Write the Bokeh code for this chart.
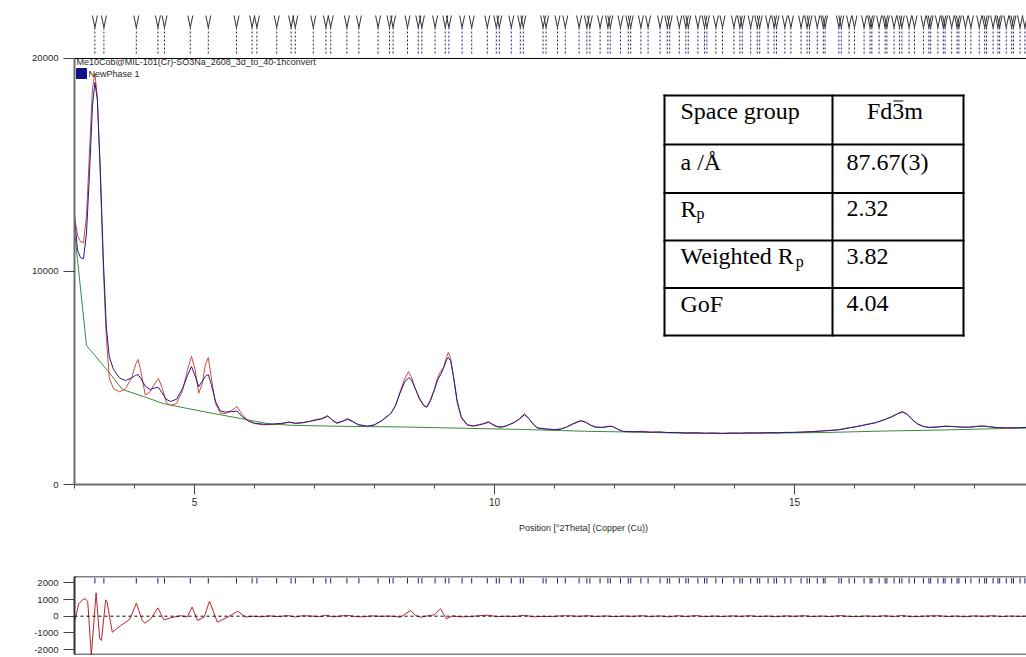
import numpy as np
from bokeh.plotting import figure
from bokeh.layouts import column
from bokeh.models import Range1d, FixedTicker, Span, Label, PrintfTickFormatter
from bokeh.embed import file_html
from bokeh.resources import INLINE

# ---------------- data ----------------
two_theta = [3.00, 3.05, 3.10, 3.15, 3.20, 3.25, 3.30, 3.34, 3.38, 3.43, 3.48, 3.53, 3.58, 3.65,
             3.75, 3.85, 3.95, 4.02, 4.06, 4.10, 4.18, 4.26, 4.34, 4.40, 4.46, 4.53, 4.60, 4.70,
             4.80, 4.88, 4.95, 5.01, 5.07, 5.13, 5.18, 5.23, 5.28, 5.35, 5.43, 5.52, 5.62, 5.71,
             5.79, 5.90, 6.00, 6.15, 6.30, 6.45, 6.58, 6.68, 6.80, 6.92, 7.02, 7.12, 7.22, 7.30,
             7.37, 7.46, 7.55, 7.63, 7.73, 7.88, 8.00, 8.12, 8.27, 8.35, 8.42, 8.50, 8.57, 8.62,
             8.68, 8.75, 8.82, 8.87, 8.93, 9.00, 9.05, 9.10, 9.15, 9.20, 9.23, 9.27, 9.32, 9.38,
             9.45, 9.55, 9.65, 9.75, 9.82, 9.90, 9.97, 10.05, 10.12, 10.22, 10.32, 10.42, 10.50,
             10.57, 10.65, 10.72, 10.85, 11.00, 11.10, 11.20, 11.30, 11.40, 11.45, 11.52, 11.60,
             11.68, 11.80, 11.92, 11.97, 12.05, 12.13, 12.30, 12.45, 12.60, 12.75, 12.90, 13.05,
             13.20, 13.35, 13.50, 13.65, 13.80, 13.95, 14.10, 14.25, 14.40, 14.55, 14.70, 14.85,
             15.00, 15.15, 15.30, 15.45, 15.60, 15.75, 15.90, 16.05, 16.20, 16.35, 16.50, 16.62,
             16.72, 16.80, 16.88, 16.96, 17.05, 17.15, 17.25, 17.40, 17.52, 17.62, 17.75, 17.90,
             18.05, 18.15, 18.28, 18.40, 18.55, 18.70, 18.87]

observed = [12600, 11700, 11400, 11350, 12600, 15600, 18600, 19300, 18200, 14500, 10200, 6900, 5000, 4500,
            4350, 4500, 5000, 5650, 5870, 5400, 4200, 4350, 4750, 4980, 4550, 3850, 3710, 3800,
            4400, 5350, 6010, 5400, 4280, 4750, 5600, 5960, 5000, 3800, 3350, 3330, 3480, 3660,
            3300, 2980, 2860, 2800, 2820, 2860, 2940, 2860, 2900, 2970, 3050, 3100, 3240, 3000,
            2860, 2960, 3100, 2980, 2800, 2720, 2800, 3000, 3330, 3700, 4300, 4950, 5300, 5000,
            4500, 4000, 3700, 3620, 3900, 4500, 5000, 5300, 5500, 5950, 6200, 5900, 5000, 3800,
            3100, 2780, 2740, 2820, 2860, 2960, 2800, 2700, 2680, 2780, 2900, 3100, 3330,
            3100, 2800, 2640, 2600, 2570, 2600, 2700, 2850, 2970, 3000, 2930, 2780,
            2690, 2680, 2740, 2720, 2600, 2490, 2470, 2500, 2450, 2470, 2430, 2450,
            2410, 2440, 2400, 2420, 2390, 2420, 2400, 2430, 2410, 2440, 2420, 2450,
            2440, 2470, 2490, 2510, 2540, 2580, 2660, 2720, 2820, 2900, 3050, 3180,
            3330, 3430, 3300, 3050, 2840, 2720, 2680, 2710, 2750, 2730, 2700, 2690,
            2740, 2750, 2700, 2660, 2650, 2660, 2680]

calculated = [12600, 11000, 10650, 10600, 11800, 14600, 17800, 18870, 18100, 14800, 10600, 7400, 6000, 5400,
              5000, 4880, 5000, 5130, 5160, 5000, 4620, 4460, 4540, 4550, 4300, 4000, 3900, 4000,
              4500, 5100, 5540, 5100, 4600, 4850, 5080, 5160, 4700, 3900, 3450, 3400, 3420, 3450,
              3200, 2980, 2880, 2830, 2830, 2870, 2920, 2880, 2900, 2960, 3020, 3080, 3200, 3030,
              2900, 2960, 3060, 2960, 2810, 2740, 2800, 2990, 3330, 3700, 4250, 4800, 5020, 4900,
              4500, 4050, 3720, 3640, 3950, 4450, 4900, 5150, 5450, 5850, 5960, 5800, 5000, 3900,
              3150, 2800, 2750, 2800, 2850, 2920, 2820, 2720, 2700, 2780, 2900, 3080, 3280,
              3100, 2820, 2660, 2610, 2580, 2600, 2690, 2830, 2950, 2980, 2920, 2790,
              2700, 2680, 2730, 2720, 2610, 2500, 2480, 2480, 2460, 2460, 2440, 2430,
              2420, 2420, 2410, 2410, 2400, 2410, 2410, 2420, 2420, 2430, 2430, 2440,
              2450, 2460, 2480, 2510, 2540, 2570, 2650, 2730, 2810, 2900, 3040, 3180,
              3320, 3400, 3290, 3060, 2850, 2720, 2680, 2700, 2730, 2720, 2700, 2690,
              2720, 2740, 2700, 2670, 2660, 2660, 2680]

bg_two_theta = [3.00, 3.20, 3.55, 3.80, 4.15, 4.48, 4.88, 5.32, 5.77, 6.22, 6.60, 7.50,
                8.50, 9.50, 10.50, 11.50, 12.50, 13.50, 14.50, 15.50, 16.50, 17.50, 18.50, 18.87]
background = [11900, 6530, 5350, 4460, 4130, 3800, 3570, 3330, 3100, 2860, 2780, 2730,
              2700, 2640, 2580, 2500, 2450, 2400, 2410, 2440, 2510, 2560, 2630, 2650]

diff_two_theta = [3.00, 3.07, 3.14, 3.18, 3.22, 3.28, 3.36, 3.42, 3.45, 3.52, 3.54, 3.63, 3.77,
                  3.91, 3.96, 4.03, 4.13, 4.17, 4.27, 4.39, 4.49, 4.60, 4.77, 4.88, 4.96, 5.05,
                  5.16, 5.25, 5.38, 5.55, 5.72, 5.85, 5.98, 6.10, 6.25, 6.40, 6.55, 6.68, 6.80,
                  6.95, 7.08, 7.20, 7.30, 7.42, 7.55, 7.68, 7.80, 7.95, 8.10, 8.25, 8.35, 8.43,
                  8.52, 8.60, 8.68, 8.77, 8.90, 9.00, 9.10, 9.20, 9.30, 9.45, 9.60, 9.75, 9.90,
                  10.05, 10.20, 10.35, 10.50, 10.65, 10.80, 10.95, 11.10, 11.25, 11.40, 11.55,
                  11.70, 11.85, 12.00, 12.15, 12.30, 12.45, 12.60, 12.75, 12.90, 13.05, 13.20,
                  13.35, 13.50, 13.65, 13.80, 13.95, 14.10, 14.25, 14.40, 14.55, 14.70, 14.85,
                  15.00, 15.15, 15.30, 15.45, 15.60, 15.75, 15.90, 16.05, 16.20, 16.35, 16.50,
                  16.65, 16.80, 16.95, 17.10, 17.25, 17.40, 17.55, 17.70, 17.85, 18.00, 18.15,
                  18.30, 18.45, 18.60, 18.75, 18.87]
difference = [-360, 740, 1000, 1040, 900, -2350, 1400, -1350, -1450, 980, 900, -960, -560,
              -220, 140, 780, -260, -420, -170, 500, -220, -100, 30, -50, 550, -260,
              -60, 900, -360, -60, 300, -50, 0, -40, 20, -30, 40, -50, 30,
              10, -30, 60, -40, 10, 50, -20, -40, 20, -10, 10, -20, -60,
              150, 340, 50, -60, 30, 90, 440, -160, 20, -40, -20, 30, 60,
              -30, 0, -20, 60, -40, -10, -20, 20, 30, -10, 30,
              -20, 20, -30, 10, -10, 30, -20, 20, -40, 30, -20,
              40, -30, 10, -20, 20, -10, 30, -20, 10, -30, 20,
              -10, 30, -20, 10, -30, 40, -10, -30, 20, -20, 30,
              -20, 40, -30, -10, 20, 30, -20, 10, -30, 20, -10,
              30, -20, 10, -10, 0]

reflections = [3.34, 3.49, 4.03, 4.39, 4.50, 4.93, 5.23, 5.70, 5.96, 6.04, 6.37, 6.61, 6.68,
               6.98, 7.19, 7.27, 7.54, 7.74, 8.06, 8.25, 8.31, 8.55, 8.73, 8.79, 9.01, 9.18,
               9.24, 9.46, 9.62, 9.88, 10.03, 10.08, 10.28, 10.43, 10.48, 10.81, 10.86, 11.05,
               11.18, 11.41, 11.54, 11.59, 11.76, 11.89, 11.93, 12.10, 12.23, 12.27, 12.44,
               12.56, 12.76, 12.88, 12.92, 13.08, 13.19, 13.23, 13.39, 13.50, 13.54, 13.69,
               13.80, 13.99, 14.09, 14.13, 14.27, 14.38, 14.42, 14.56, 14.66, 14.70, 14.84,
               14.94, 15.11, 15.21, 15.25, 15.38, 15.48, 15.51, 15.74, 15.78, 15.91, 16.00,
               16.16, 16.26, 16.29, 16.41, 16.51, 16.54, 16.66, 16.75, 16.79, 16.91, 17.00,
               17.15, 17.24, 17.27, 17.39, 17.48, 17.51, 17.62, 17.71, 17.74, 17.85, 17.94,
               18.08, 18.17, 18.20, 18.31, 18.39, 18.42, 18.53, 18.62, 18.65, 18.76, 18.84]

sample_name = "Me10Cob@MIL-101(Cr)-SO3Na_2608_3d_to_40-1hconvert"
phase_name = "NewPhase 1"
x_title = "Position [°2Theta] (Copper (Cu))"
main_y_ticks = [0, 10000, 20000]
diff_y_ticks = [-2000, -1000, 0, 1000, 2000]
x_major_ticks = [5, 10, 15]
x_minor_ticks = list(range(3, 19))

table_labels = ["Space group", "a /Å", "R", "Weighted R", "GoF"]
table_label_subs = ["", "", "p", "p", ""]
table_values = ["Fd3m", "87.67(3)", "2.32", "3.82", "4.04"]

# ---------------- styling / geometry ----------------
RED = "#cf4a3e"
BLUE = "#1d1d8c"
GREEN = "#3b8a3b"
DIFF_RED = "#b3282c"
NAVY = "#23236b"
AXIS_GREY = "#6e6e6e"
LABEL = "#2a2a2a"
SANS = "Liberation Sans"
SERIF = "Liberation Serif"

W = 1026
LEFT = 74
X_START, X_END = 3.0, 18.867

# main panel: frame from y=8 to y=484 of the page
H1, TOP1, BOTTOM1 = 512, 8, 484
Y_TOP = 22347.0

# strip holding the x axis title (page y 512..560)
H_MID = 48
MID_OFFSET = H1

# difference panel (page y 560..657)
H2, TOP2, BOTTOM2 = 97, 16, 94
DIFF_ZERO_PX = 55.7        # zero line, pixels from top of the lower panel
DIFF_PX_PER_UNIT = 0.0167
Y2_TOP = (DIFF_ZERO_PX - TOP2) / DIFF_PX_PER_UNIT
Y2_BOT = -(BOTTOM2 - DIFF_ZERO_PX) / DIFF_PX_PER_UNIT


def px_x(px):
    return X_START + (px - LEFT) * (X_END - X_START) / (W - LEFT)


def py_y(py):
    return (BOTTOM1 - py) * Y_TOP / (BOTTOM1 - TOP1)


def py2_y(py):
    return (DIFF_ZERO_PX - py) / DIFF_PX_PER_UNIT


x_range = Range1d(X_START, X_END)

# ---------------- main panel ----------------
p = figure(width=W, height=H1, x_range=x_range, y_range=Range1d(0, Y_TOP),
           output_backend="svg", toolbar_location=None, title=None,
           min_border_left=LEFT, min_border_right=0,
           min_border_top=TOP1, min_border_bottom=H1 - BOTTOM1)
p.outline_line_color = None
p.grid.visible = False

p.xaxis.ticker = FixedTicker(ticks=x_major_ticks, minor_ticks=x_minor_ticks)
p.xaxis.axis_line_color = AXIS_GREY
p.xaxis.axis_line_width = 2
p.xaxis.major_tick_line_color = "#444444"
p.xaxis.minor_tick_line_color = "#444444"
p.xaxis.major_tick_in = 0
p.xaxis.major_tick_out = 10
p.xaxis.minor_tick_in = 0
p.xaxis.minor_tick_out = 4
p.xaxis.major_label_standoff = 3
p.xaxis.major_label_text_font = SANS
p.xaxis.major_label_text_font_size = "10px"
p.xaxis.major_label_text_color = LABEL

p.yaxis.ticker = FixedTicker(ticks=main_y_ticks, minor_ticks=[])
p.yaxis.bounds = (0, 20000)
p.yaxis.formatter = PrintfTickFormatter(format="%d")
p.yaxis.axis_line_color = AXIS_GREY
p.yaxis.axis_line_width = 2
p.yaxis.major_tick_line_color = "#444444"
p.yaxis.major_tick_in = 0
p.yaxis.major_tick_out = 11
p.yaxis.major_label_standoff = 5
p.yaxis.major_label_text_font = SANS
p.yaxis.major_label_text_font_size = "9.5px"
p.yaxis.major_label_text_color = LABEL

# fitted pattern
p.line(bg_two_theta, background, line_color=GREEN, line_width=1)
p.line(two_theta, observed, line_color=RED, line_width=1)
p.line(two_theta, calculated, line_color=BLUE, line_width=1)

# top border of the pattern area
p.add_layout(Span(location=20000, dimension="width", line_color="black", line_width=1))

# reflection markers above the pattern
refl = np.array(reflections)
arm = px_x(LEFT + 2.5) - X_START
n = len(refl)
y_tip, y_fork, y_foot = py_y(15), py_y(27), py_y(55)
p.segment(x0=refl - arm, y0=[y_tip] * n, x1=refl, y1=[y_fork] * n, line_color="#333333", line_width=1)
p.segment(x0=refl + arm, y0=[y_tip] * n, x1=refl, y1=[y_fork] * n, line_color="#333333", line_width=1)
p.segment(x0=refl, y0=[y_fork] * n, x1=refl, y1=[y_foot] * n, line_color=NAVY,
          line_width=1, line_dash="2 2")

# sample / phase key
p.add_layout(Label(x=px_x(76), y=py_y(61.5), text=sample_name, text_baseline="middle",
                   text_font=SANS, text_font_size="9px", text_color=LABEL))
p.quad(left=px_x(76), right=px_x(86), top=py_y(68), bottom=py_y(78),
       fill_color="#111188", line_color="#111188")
p.add_layout(Label(x=px_x(88), y=py_y(73.5), text=phase_name, text_baseline="middle",
                   text_font=SANS, text_font_size="9px", text_color=LABEL))

# refinement summary table
T_L, T_M, T_R = 664, 832, 963
row_edges = [95, 144, 192.5, 240, 287.5, 335]
p.quad(left=px_x(T_L), right=px_x(T_R), top=py_y(row_edges[0]), bottom=py_y(row_edges[-1]),
       fill_color="white", line_color=None)
p.segment(x0=[px_x(T_L)] * len(row_edges), y0=[py_y(r) for r in row_edges],
          x1=[px_x(T_R)] * len(row_edges), y1=[py_y(r) for r in row_edges],
          line_color="black", line_width=2, line_cap="square")
p.segment(x0=[px_x(c) for c in (T_L, T_M, T_R)], y0=[py_y(row_edges[0])] * 3,
          x1=[px_x(c) for c in (T_L, T_M, T_R)], y1=[py_y(row_edges[-1])] * 3,
          line_color="black", line_width=2, line_cap="square")

FS = 24
SUB_FS = 16
# Times-metric advance widths (em) used to place subscripts and the bar over the 3
TIMES_W = {"R": 0.667, "W": 0.944, "e": 0.444, "i": 0.278, "g": 0.5, "h": 0.5, "t": 0.278,
           "d": 0.5, " ": 0.25, "F": 0.556, "3": 0.5, "m": 0.778}


def text_width(s, size):
    return sum(TIMES_W.get(ch, 0.5) for ch in s) * size


BASE_SHIFT = 15.5          # alphabetic baseline position below the row's top rule
baselines = [r + BASE_SHIFT for r in row_edges[:-1]]
baselines[1] += 1.5
for lab, sub, val, base in zip(table_labels, table_label_subs, table_values, baselines):
    p.add_layout(Label(x=px_x(680), y=py_y(base), text=lab, text_baseline="alphabetic",
                       text_font=SERIF, text_font_size=f"{FS}px", text_color="black"))
    if sub:
        p.add_layout(Label(x=px_x(680 + text_width(lab, FS)), y=py_y(base + 5), text=sub,
                           text_baseline="alphabetic", text_font=SERIF,
                           text_font_size=f"{SUB_FS}px", text_color="black"))
    if val == "Fd3m":
        centre = (T_M + T_R) / 2 - 3
        total = text_width(val, FS)
        start = centre - total / 2
        p.add_layout(Label(x=px_x(start), y=py_y(base), text=val,
                           text_baseline="alphabetic", text_font=SERIF,
                           text_font_size=f"{FS}px", text_color="black"))
        bar0 = start + text_width("Fd", FS)
        bar_py = base - 10
        p.segment(x0=[px_x(bar0 + 1)], y0=[py_y(bar_py)], x1=[px_x(bar0 + 11)],
                  y1=[py_y(bar_py)], line_color="black", line_width=1.2)
    else:
        p.add_layout(Label(x=px_x(846), y=py_y(base), text=val, text_baseline="alphabetic",
                           text_font=SERIF, text_font_size=f"{FS}px", text_color="black"))

# ---------------- x axis title strip ----------------
pm = figure(width=W, height=H_MID, x_range=x_range, y_range=Range1d(0, H_MID),
            output_backend="svg", toolbar_location=None, title=None,
            x_axis_type=None, y_axis_type=None,
            min_border_left=LEFT, min_border_right=0, min_border_top=0, min_border_bottom=0)
pm.outline_line_color = None
pm.grid.visible = False
pm.add_layout(Label(x=px_x(583), y=H_MID - (527 - MID_OFFSET), text=x_title,
                    text_align="center", text_baseline="middle", text_font=SANS,
                    text_font_size="9px", text_color=LABEL))

# ---------------- difference panel ----------------
p2 = figure(width=W, height=H2, x_range=x_range, y_range=Range1d(Y2_BOT, Y2_TOP),
            output_backend="svg", toolbar_location=None, title=None,
            min_border_left=LEFT, min_border_right=0,
            min_border_top=TOP2, min_border_bottom=H2 - BOTTOM2)
p2.outline_line_color = None
p2.grid.visible = False
p2.xaxis.visible = False

p2.yaxis.ticker = FixedTicker(ticks=diff_y_ticks, minor_ticks=[])
p2.yaxis.formatter = PrintfTickFormatter(format="%d")
p2.yaxis.axis_line_color = "#333333"
p2.yaxis.axis_line_width = 2
p2.yaxis.major_tick_line_color = "#444444"
p2.yaxis.major_tick_in = 0
p2.yaxis.major_tick_out = 11
p2.yaxis.major_label_standoff = 5
p2.yaxis.major_label_text_font = SANS
p2.yaxis.major_label_text_font_size = "9.5px"
p2.yaxis.major_label_text_color = LABEL

p2.add_layout(Span(location=Y2_TOP, dimension="width", line_color="black", line_width=1.5))
p2.add_layout(Span(location=Y2_BOT, dimension="width", line_color="black", line_width=1.5))
p2.add_layout(Span(location=0, dimension="width", line_color="black", line_width=1,
                   line_dash="3 3"))

p2.segment(x0=refl, y0=[py2_y(17.5)] * n, x1=refl, y1=[py2_y(23)] * n,
           line_color=NAVY, line_width=1)
p2.line(diff_two_theta, difference, line_color=DIFF_RED, line_width=1)

layout = column(p, pm, p2, spacing=0)
open("out.html", "w").write(file_html(layout, INLINE))
